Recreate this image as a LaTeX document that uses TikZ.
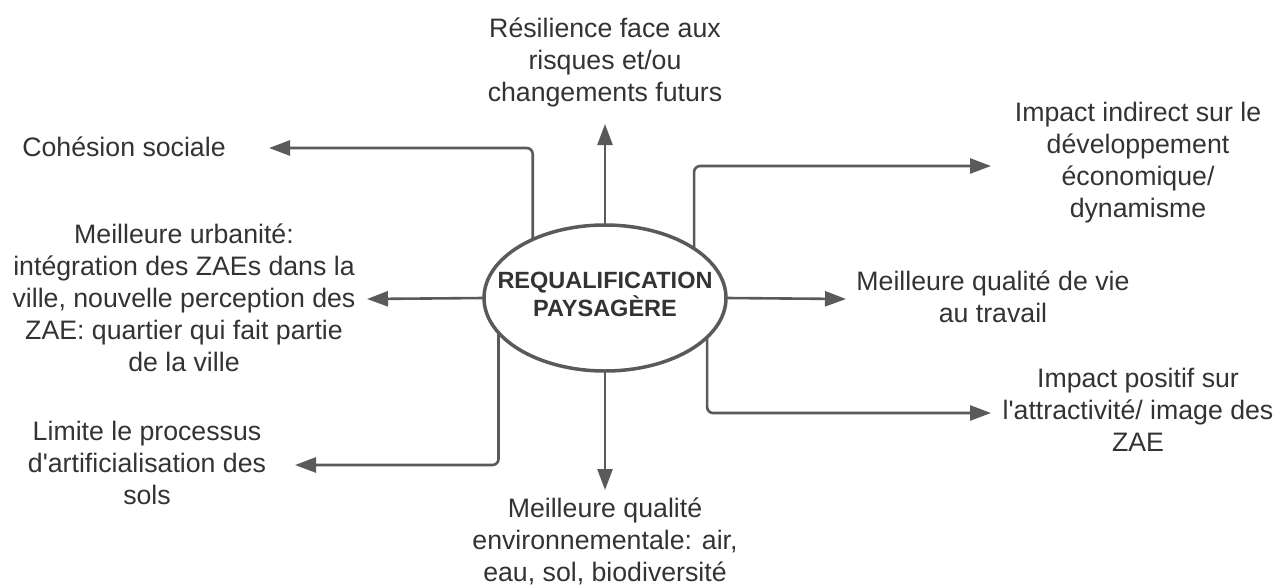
\documentclass[tikz,border=0pt]{standalone}
\usepackage{fontspec}
\setmainfont{Liberation Sans}
\usetikzlibrary{arrows.meta,shapes.geometric}
\definecolor{txt}{HTML}{333333}
\definecolor{ln}{HTML}{5A5A5A}
\begin{document}
\begin{tikzpicture}[x=1pt,y=-1pt,
  lbl/.style={align=center,inner sep=0pt,text=txt,font=\fontsize{26.7}{32}\selectfont},
  arr/.style={draw=ln,line width=2.6pt,rounded corners=6pt,-{Triangle[length=21pt,width=15pt]}},
  hub/.style={ellipse,draw=ln,line width=3.5pt,minimum width=242pt,minimum height=146pt,inner sep=0pt,outer sep=0pt,align=center,text=txt,text depth=8pt,font=\fontsize{23.5}{28}\selectfont\bfseries}]
\useasboundingbox (0,0) rectangle (1273,586);
\fill[white] (0,0) rectangle (1273,586);

\node[hub] (ell) at (605,298) {\makebox[0pt]{REQUALIFICATION}\\\makebox[0pt]{PAYSAGÈRE}};

\node[lbl] (res) at (605,62) {Résilience face aux\\risques et/ou\\changements futurs};
\node[lbl] (coh) at (124,147) {Cohésion sociale};
\node[lbl] (rt) at (1138,163) {Impact indirect sur le\\développement\\économique/\\dynamisme};
\node[lbl] (lm) at (184,298) {Meilleure urbanité:\\intégration des ZAEs dans la\\ville, nouvelle perception des\\ZAE: quartier qui fait partie\\de la ville};
\node[lbl] (rm) at (993,297) {Meilleure qualité de vie\\au travail};
\node[lbl] (rb) at (1138,410) {Impact positif sur\\l\textquotesingle attractivité/ image des\\ZAE};
\node[lbl] (lb) at (147,463) {Limite le processus\\d\textquotesingle artificialisation des\\sols};
\node[lbl] (bot) at (605,541) {Meilleure qualité\\environnementale: air,\\eau, sol, biodiversité};

\coordinate (tres) at (605,124);
\coordinate (tcoh) at (269,148);
\coordinate (trt) at (991,166);
\coordinate (tlm) at (367,299);
\coordinate (trm) at (846,299);
\coordinate (trb) at (991,413);
\coordinate (tlb) at (295,465);
\coordinate (tbot) at (605,490);

\draw[arr] (ell.north) -- (tres);
\draw[arr] (ell.141.2) |- (tcoh);
\draw[arr] (ell.29.9) |- (trt);
\draw[arr] (ell.west) -- (tlm);
\draw[arr] (ell.east) -- (trm);
\draw[arr] (ell.-21.5) |- (trb);
\draw[arr] (ell.198.1) |- (tlb);
\draw[arr] (ell.south) -- (tbot);
\end{tikzpicture}
\end{document}
